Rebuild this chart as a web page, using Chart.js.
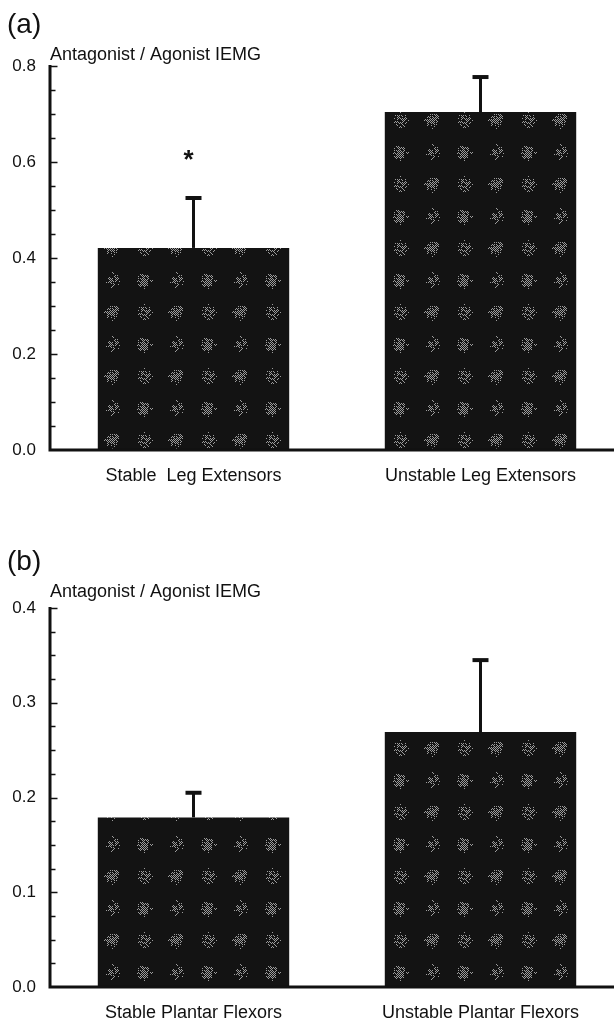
<!DOCTYPE html>
<html>
<head>
<meta charset="utf-8">
<script src="https://cdn.jsdelivr.net/npm/chart.js@4/dist/chart.umd.min.js"></script>
<style>
  html, body { margin: 0; padding: 0; background: #fff; overflow: hidden; width: 614px; height: 1025px; }
  .panel { position: absolute; left: 0; width: 624px; }
  #wrapA { top: 0; height: 500px; }
  #wrapB { top: 500px; height: 525px; }
  canvas { display: block; }
</style>
</head>
<body>
<div class="panel" id="wrapA"><canvas id="chartA" width="624" height="500"></canvas></div>
<div class="panel" id="wrapB"><canvas id="chartB" width="624" height="525"></canvas></div>
<script>
// (a) leg extensors
const legCategories = ['Stable  Leg Extensors', 'Unstable Leg Extensors'];
const legMeans = [0.421, 0.704];
const legErrors = [0.104, 0.073];
const legMarks = ['*', ''];
const legTicks = [0.0, 0.2, 0.4, 0.6, 0.8];

// (b) plantar flexors
const plantarCategories = ['Stable Plantar Flexors', 'Unstable Plantar Flexors'];
const plantarMeans = [0.179, 0.269];
const plantarErrors = [0.026, 0.076];
const plantarMarks = ['', ''];
const plantarTicks = [0.0, 0.1, 0.2, 0.3, 0.4];

const axisTitle = 'Antagonist / Agonist IEMG';
const FONT = '"Liberation Sans", Arial, sans-serif';

// dark fill with grey dotted blobs, like a halftone print
function makeTexture() {
  const c = document.createElement('canvas');
  c.width = 64; c.height = 64;
  const g = c.getContext('2d');
  g.fillStyle = '#131313';
  g.fillRect(0, 0, 64, 64);
  const blobs = [[16, 24, 0.95], [48, 24, 0.7], [16, 56, 0.75], [48, 56, 1.0]];
  g.fillStyle = '#9c9c9c';
  for (const [cx, cy, dens] of blobs) {
    for (let y = -9; y <= 9; y++) {
      for (let x = -9; x <= 9; x++) {
        const d = Math.sqrt(x * x + y * y) * 0.75 + (Math.abs(x) + Math.abs(y)) * 0.35;
        if (d > 9) continue;
        const px = (cx + x + 64) % 64, py = (cy + y + 64) % 64;
        if ((px + py) % 2) continue;
        const h = (((px * 2654435761) ^ (py * 40503)) >>> 0) % 997 / 997;
        if (h < dens * (1.05 - d / 13)) g.fillRect(px, py, 1, 1);
      }
    }
  }
  return g.createPattern(c, 'repeat');
}

const panelDecor = {
  id: 'panelDecor',
  afterDatasetsDraw(chart, args, opts) {
    const { ctx } = chart;
    const ys = chart.scales.y;
    const meta = chart.getDatasetMeta(0);
    ctx.save();
    ctx.strokeStyle = '#111';
    ctx.fillStyle = '#111';
    ctx.lineCap = 'butt';
    meta.data.forEach((bar, i) => {
      const top = ys.getPixelForValue(opts.means[i] + opts.errors[i]);
      ctx.lineWidth = 3;
      ctx.beginPath(); ctx.moveTo(bar.x, bar.y); ctx.lineTo(bar.x, top); ctx.stroke();
      ctx.lineWidth = 4;
      ctx.beginPath(); ctx.moveTo(bar.x - 8, top); ctx.lineTo(bar.x + 8, top); ctx.stroke();
      if (opts.marks[i]) {
        ctx.font = 'bold 26px ' + FONT;
        ctx.textAlign = 'center';
        ctx.textBaseline = 'middle';
        ctx.fillText(opts.marks[i], bar.x - 5, top - 37);
      }
    });
    ctx.restore();
  },
  afterDraw(chart, args, opts) {
    const { ctx, chartArea } = chart;
    const ys = chart.scales.y;
    ctx.save();
    ctx.strokeStyle = '#111';
    ctx.fillStyle = '#111';
    // axes
    ctx.lineWidth = 3;
    ctx.beginPath();
    ctx.moveTo(chartArea.left, chartArea.top - 1);
    ctx.lineTo(chartArea.left, chartArea.bottom + 1.5);
    ctx.moveTo(chartArea.left - 1.5, chartArea.bottom);
    ctx.lineTo(chart.width, chartArea.bottom);
    ctx.stroke();
    // inward tick marks
    const n = Math.round((ys.max - ys.min) / opts.minorStep);
    const ratio = Math.round(opts.majorStep / opts.minorStep);
    ctx.lineWidth = 1.5;
    ctx.beginPath();
    for (let k = 1; k <= n; k++) {
      const y = Math.round(ys.getPixelForValue(ys.min + k * opts.minorStep)) + 0.5;
      const len = (k % ratio === 0) ? 6 : 4;
      ctx.moveTo(chartArea.left, y);
      ctx.lineTo(chartArea.left + 1.5 + len, y);
    }
    ctx.stroke();
    // panel letter and axis title
    ctx.textAlign = 'left';
    ctx.textBaseline = 'middle';
    ctx.font = '28px ' + FONT;
    ctx.fillText(opts.letter, 7, opts.letterY);
    ctx.font = '18px ' + FONT;
    ctx.fillText(opts.title, chartArea.left, chartArea.top + opts.titleDy);
    ctx.restore();
  }
};

function buildChart(id, cats, means, errors, marks, ticks, minorStep, topPad, axisBottom, letter, letterY, titleDy) {
  const canvas = document.getElementById(id);
  const H = canvas.height;
  const majorStep = ticks[1] - ticks[0];
  return new Chart(canvas, {
    type: 'bar',
    data: {
      labels: cats,
      datasets: [{
        data: means,
        backgroundColor: makeTexture(),
        borderWidth: 0,
        barPercentage: 0.667,
        categoryPercentage: 1.0
      }]
    },
    options: {
      responsive: false,
      animation: false,
      layout: { padding: { top: topPad, left: 0, right: 0, bottom: 0 } },
      plugins: {
        legend: { display: false },
        tooltip: { enabled: false },
        panelDecor: {
          means: means, errors: errors, marks: marks,
          majorStep: majorStep, minorStep: minorStep,
          letter: letter, letterY: letterY, title: axisTitle, titleDy: titleDy
        }
      },
      scales: {
        x: {
          type: 'category',
          offset: true,
          grid: { display: false },
          border: { display: false },
          ticks: { color: '#111', font: { family: FONT, size: 18 }, padding: 7, maxRotation: 0, autoSkip: false },
          afterFit: (s) => { s.height = H - axisBottom; }
        },
        y: {
          min: ticks[0],
          max: ticks[ticks.length - 1],
          afterBuildTicks: (s) => { s.ticks = ticks.map(v => ({ value: v })); },
          grid: { display: false },
          border: { display: false },
          ticks: { color: '#111', font: { family: FONT, size: 17 }, padding: 6, callback: (v) => Number(v).toFixed(1) },
          afterFit: (s) => { s.width = 50; }
        }
      }
    },
    plugins: [panelDecor]
  });
}

buildChart('chartA', legCategories, legMeans, legErrors, legMarks, legTicks, 0.05, 66, 450, '(a)', 25, -11);
buildChart('chartB', plantarCategories, plantarMeans, plantarErrors, plantarMarks, plantarTicks, 0.025, 108, 487, '(b)', 62, -16);
</script>
</body>
</html>
